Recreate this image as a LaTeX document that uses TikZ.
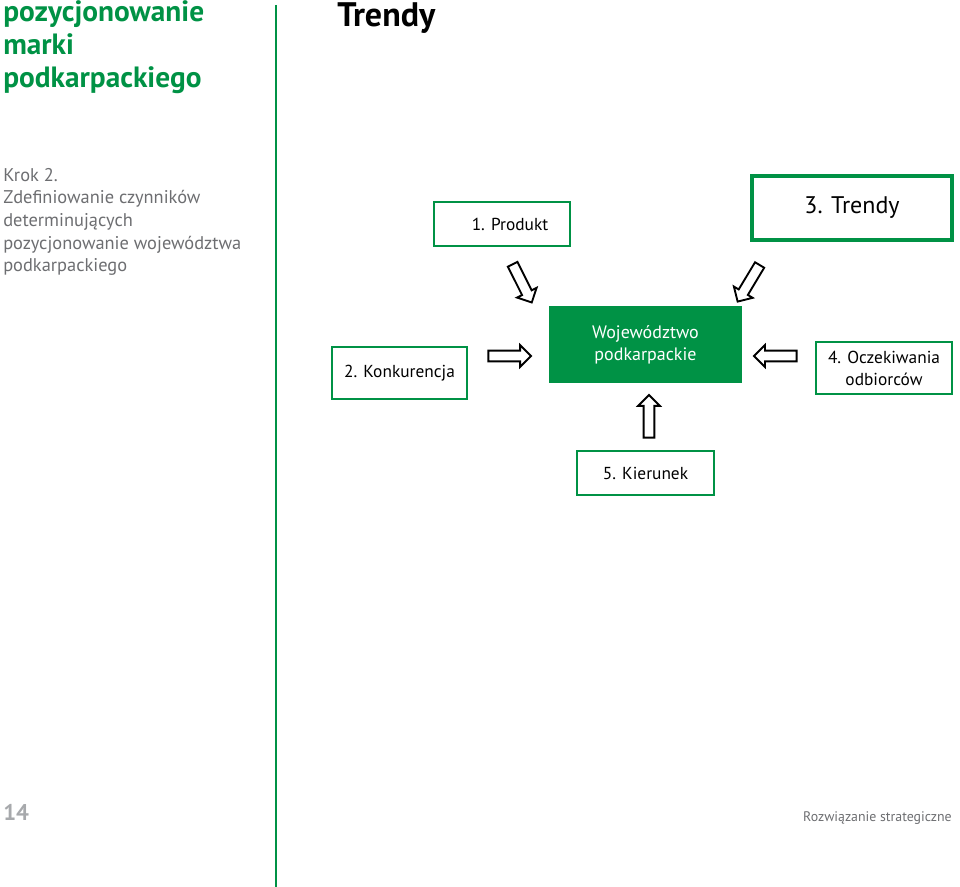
\documentclass[tikz,border=0pt]{standalone}
\usepackage{fontspec}
\setmainfont{PT Sans}
\usepackage{xcolor}
\usetikzlibrary{shapes.arrows}

\definecolor{pgreen}{HTML}{009245}
\definecolor{pgray}{HTML}{6D6E71}
\definecolor{lgray}{HTML}{A7A9AC}

\begin{document}
\begin{tikzpicture}[
    x=0.75pt, y=-0.75pt,
    every node/.style={inner sep=0pt},
    factor/.style={draw=pgreen, line width=2.2pt, fill=white,
                   minimum width=102pt, minimum height=33pt,
                   align=center, font=\fontsize{13}{16.5}\selectfont},
    core/.style={fill=pgreen, text=white, minimum width=144.75pt,
                 minimum height=57.75pt, align=center,
                 font=\fontsize{13.5}{16.5}\selectfont},
    blockarr/.style={single arrow, draw=black, fill=white, line width=1.4pt,
                     inner xsep=0pt, inner ysep=3.3pt,
                     minimum height=32pt,
                     single arrow head extend=4.2pt},
  ]
  \useasboundingbox (0,0) rectangle (960,887);

  % header
  \node[anchor=base west, align=left, text=pgreen,
        font=\fontsize{22}{24.75}\selectfont\bfseries] (head) at (3,88)
    {pozycjonowanie\\marki\\podkarpackiego};
  \node[anchor=base west, font=\fontsize{25.5}{28}\selectfont\bfseries] (title) at (337,27) {Trendy};
  \draw[pgreen, line width=1.5pt] (276,5) -- (276,887);

  \node[anchor=base west, align=left, text=pgray,
        font=\fontsize{13.8}{17}\selectfont] (step) at (3,272)
    {Krok 2.\\Zdefiniowanie czynników\\determinujących\\pozycjonowanie województwa\\podkarpackiego};

  % factors
  \node[factor] (prod) at (502,224) {\hspace*{12pt}1. Produkt};
  \node[factor, line width=3pt, minimum width=150pt, minimum height=48pt,
        font=\fontsize{18}{22}\selectfont] (trend) at (852,208) {3. Trendy};
  \node[factor, minimum width=101.25pt, minimum height=39pt] (konk) at (399.5,373) {2. Konkurencja};
  \node[core] (woj) at (645.5,344.5) {Województwo\\podkarpackie};
  \node[factor, minimum height=39pt] (ocz) at (884,368) {4. Oczekiwania\\odbiorców};
  \node[factor, minimum width=102.75pt] (kier) at (645.5,473) {5. Kierunek};

  % arrows
  \node[blockarr, rotate=-63.4] (a1) at (521,281) {};
  \node[blockarr, rotate=-121] (a2) at (750,281) {};
  \node[blockarr] (a3) at (507,356) {};
  \node[blockarr, rotate=180] (a4) at (778,356) {};
  \node[blockarr, rotate=90] (a5) at (649,419) {};

  % footer
  \node[anchor=base west, text=lgray, font=\fontsize{17}{20}\selectfont\bfseries] (page) at (3,820) {14};
  \node[anchor=base east, text=pgray, font=\fontsize{10.4}{12}\selectfont] (foot) at (952,821) {Rozwiązanie strategiczne};
\end{tikzpicture}
\end{document}
